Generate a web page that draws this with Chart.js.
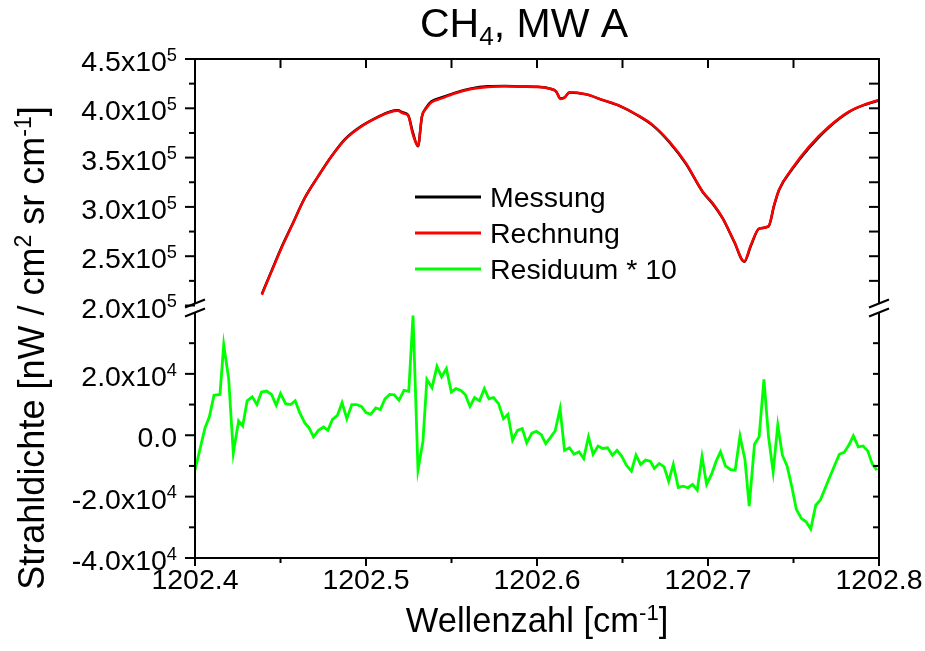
<!DOCTYPE html>
<html>
<head>
<meta charset="utf-8">
<title>CH4, MW A</title>
<script src="https://cdn.jsdelivr.net/npm/chart.js@4.4.1/dist/chart.umd.min.js"></script>
<style>
  html, body { margin: 0; padding: 0; background: #fff; }
  canvas { display: block; }
</style>
</head>
<body>
<canvas id="ch4-chart" width="925" height="651"></canvas>
<script>
// spectra (Messung / Rechnung) in nW / cm2 sr cm-1
const specWavenumber = [
  1202.4391, 1202.4448, 1202.4506, 1202.4565, 1202.4642, 1202.4720, 1202.4798, 1202.4876, 1202.4973, 1202.5070,
  1202.5139, 1202.5187, 1202.5216, 1202.5246, 1202.5275, 1202.5304, 1202.5327, 1202.5353, 1202.5382, 1202.5441,
  1202.5518, 1202.5616, 1202.5713, 1202.5810, 1202.5908, 1202.6005, 1202.6083, 1202.6112, 1202.6137, 1202.6161,
  1202.6190, 1202.6287, 1202.6384, 1202.6482, 1202.6579, 1202.6676, 1202.6774, 1202.6871, 1202.6968, 1202.7027,
  1202.7085, 1202.7153, 1202.7212, 1202.7251, 1202.7299, 1202.7354, 1202.7387, 1202.7416, 1202.7494, 1202.7591,
  1202.7708, 1202.7825, 1202.7922, 1202.8000
];
const messung = [
  2.116e5, 2.353e5, 2.591e5, 2.808e5, 3.092e5, 3.310e5, 3.514e5, 3.686e5, 3.820e5, 3.914e5,
  3.966e5, 3.979e5, 3.957e5, 3.933e5, 3.750e5, 3.614e5, 3.915e5, 4.009e5, 4.068e5, 4.110e5,
  4.157e5, 4.201e5, 4.223e5, 4.227e5, 4.221e5, 4.218e5, 4.196e5, 4.170e5, 4.099e5, 4.108e5,
  4.161e5, 4.141e5, 4.083e5, 4.024e5, 3.937e5, 3.827e5, 3.656e5, 3.436e5, 3.154e5, 3.033e5,
  2.885e5, 2.646e5, 2.444e5, 2.606e5, 2.779e5, 2.802e5, 3.016e5, 3.175e5, 3.386e5, 3.598e5,
  3.808e5, 3.964e5, 4.039e5, 4.080e5
];
const rechnung = [
  2.110e5, 2.347e5, 2.584e5, 2.803e5, 3.090e5, 3.309e5, 3.511e5, 3.680e5, 3.815e5, 3.910e5,
  3.960e5, 3.974e5, 3.950e5, 3.926e5, 3.730e5, 3.620e5, 3.916e5, 4.000e5, 4.060e5, 4.100e5,
  4.150e5, 4.196e5, 4.217e5, 4.224e5, 4.220e5, 4.217e5, 4.196e5, 4.170e5, 4.095e5, 4.110e5,
  4.163e5, 4.143e5, 4.085e5, 4.027e5, 3.940e5, 3.832e5, 3.663e5, 3.444e5, 3.157e5, 3.039e5,
  2.888e5, 2.651e5, 2.448e5, 2.617e5, 2.780e5, 2.803e5, 3.022e5, 3.174e5, 3.394e5, 3.612e5,
  3.815e5, 3.966e5, 4.041e5, 4.085e5
];

// residual (Messung - Rechnung) * 10
const resWavenumber = [
  1202.4000, 1202.4058, 1202.4084, 1202.4111, 1202.4146, 1202.4168, 1202.4197, 1202.4224, 1202.4255, 1202.4279,
  1202.4305, 1202.4335, 1202.4362, 1202.4389, 1202.4419, 1202.4448, 1202.4475, 1202.4500, 1202.4530, 1202.4559,
  1202.4586, 1202.4613, 1202.4642, 1202.4667, 1202.4693, 1202.4722, 1202.4752, 1202.4777, 1202.4804, 1202.4833,
  1202.4860, 1202.4888, 1202.4917, 1202.4944, 1202.4973, 1202.5000, 1202.5028, 1202.5057, 1202.5084, 1202.5111,
  1202.5139, 1202.5166, 1202.5193, 1202.5222, 1202.5250, 1202.5275, 1202.5304, 1202.5333, 1202.5356, 1202.5386,
  1202.5415, 1202.5442, 1202.5470, 1202.5499, 1202.5526, 1202.5555, 1202.5581, 1202.5608, 1202.5635, 1202.5664,
  1202.5692, 1202.5719, 1202.5746, 1202.5775, 1202.5804, 1202.5830, 1202.5857, 1202.5886, 1202.5914, 1202.5940,
  1202.5970, 1202.5997, 1202.6025, 1202.6051, 1202.6079, 1202.6106, 1202.6135, 1202.6161, 1202.6190, 1202.6217,
  1202.6246, 1202.6273, 1202.6301, 1202.6328, 1202.6357, 1202.6384, 1202.6413, 1202.6441, 1202.6468, 1202.6495,
  1202.6523, 1202.6552, 1202.6579, 1202.6606, 1202.6635, 1202.6663, 1202.6686, 1202.6715, 1202.6743, 1202.6770,
  1202.6797, 1202.6826, 1202.6854, 1202.6883, 1202.6910, 1202.6937, 1202.6965, 1202.6992, 1202.7021, 1202.7048,
  1202.7073, 1202.7102, 1202.7132, 1202.7159, 1202.7187, 1202.7216, 1202.7241, 1202.7272, 1202.7299, 1202.7327,
  1202.7354, 1202.7381, 1202.7408, 1202.7435, 1202.7463, 1202.7490, 1202.7517, 1202.7546, 1202.7574, 1202.7601,
  1202.7630, 1202.7657, 1202.7685, 1202.7712, 1202.7739, 1202.7768, 1202.7796, 1202.7823, 1202.7850, 1202.7879,
  1202.7907, 1202.7934, 1202.7961, 1202.7988
];
const residuum = [
  -11400, 2300, 6000, 13000, 13300, 29500, 18400, -5800, 4700, 3000,
  11200, 12500, 10000, 14100, 14400, 13200, 9800, 13600, 10300, 10000,
  11200, 7300, 4000, 2400, -500, 1600, 2700, 1600, 5200, 6500,
  10600, 5400, 10000, 10000, 9400, 7400, 6800, 8900, 8400, 11900,
  13300, 13200, 11400, 14600, 14300, 39000, -11200, -2000, 18200, 15500,
  22400, 19000, 21700, 14100, 15200, 14600, 13200, 9400, 12300, 11200,
  15200, 11900, 12300, 10300, 5400, 6800, -1600, 1600, 2200, -2500,
  700, 1300, 200, -2700, -700, 1400, 8700, -4900, -4100, -6200,
  -5400, -7600, -500, -6200, -3500, -4300, -4100, -6500, -4900, -6800,
  -9800, -11700, -6500, -9500, -8100, -8500, -10800, -9200, -10300, -15000,
  -9500, -17000, -16600, -17100, -16000, -17900, -7000, -16000, -12700, -8400,
  -5400, -10000, -11200, -11400, -300, -7900, -23100, -2900, -500, 18200,
  -500, -11900, 3300, -6500, -10100, -16800, -24200, -27100, -28200, -30600,
  -22800, -21100, -17300, -13600, -10000, -6200, -5600, -3300, -200, -3800,
  -3500, -5100, -9400, -11400
];

const xTickValues = [1202.4, 1202.5, 1202.6, 1202.7, 1202.8];
const specTickValues = [2.0e5, 2.5e5, 3.0e5, 3.5e5, 4.0e5, 4.5e5];
const resTickValues = [-4.0e4, -2.0e4, 0, 2.0e4];
const resAxisMax = 4.0e4;

const FONT = "'Liberation Sans', Arial, Helvetica, sans-serif";

// plot box and the broken y axis (upper part = spectra, lower part = residual)
const frame = { left: 195, right: 879, top: 59, bottom: 558 };
const upperShare = 0.494;
const gapShare = 0.014;

const plotH = frame.bottom - frame.top;
const upperH = plotH * upperShare;
const lowerH = plotH * (1 - upperShare - gapShare);
const specLo = specTickValues[0];
const specHi = specTickValues[specTickValues.length - 1];
const resLo = resTickValues[0];
const specMin = specHi - (specHi - specLo) * plotH / upperH;
const resMax = resLo + (resAxisMax - resLo) * plotH / lowerH;

const toPoints = (xs, ys) => xs.map((x, i) => ({ x: x, y: ys[i] }));

// text with super-/subscripts: parts = [{t, s}] with s = 1 (sup), -1 (sub)
const SUP = 0.64;
function richWidth(ctx, parts, size) {
  let w = 0;
  for (const p of parts) {
    ctx.font = (p.s ? size * SUP : size) + 'px ' + FONT;
    w += ctx.measureText(p.t).width;
  }
  return w;
}
function drawRich(ctx, parts, x, y, size, align) {
  const w = richWidth(ctx, parts, size);
  let cx = align === 'right' ? x - w : align === 'center' ? x - w / 2 : x;
  ctx.textAlign = 'left';
  ctx.textBaseline = 'alphabetic';
  for (const p of parts) {
    ctx.font = (p.s ? size * SUP : size) + 'px ' + FONT;
    const dy = p.s === 1 ? -size * 0.36 : p.s === -1 ? size * 0.2 : 0;
    ctx.fillText(p.t, cx, y + dy);
    cx += ctx.measureText(p.t).width;
  }
}
function sciParts(v) {
  if (v === 0) return [{ t: '0.0' }];
  const e = Math.floor(Math.log10(Math.abs(v)));
  return [{ t: (v / Math.pow(10, e)).toFixed(1) + 'x10' }, { t: String(e), s: 1 }];
}
const midpoints = v => v.slice(1).map((t, i) => (t + v[i]) / 2);

const decorations = {
  id: 'decorations',
  afterDraw(chart) {
    const { ctx, chartArea: a, scales } = chart;
    const sx = scales.x, ys = scales.ySpec, yr = scales.yRes;
    const upperEnd = ys.getPixelForValue(specLo);
    const lowerStart = yr.getPixelForValue(resAxisMax);
    const line = (x1, y1, x2, y2) => {
      ctx.beginPath(); ctx.moveTo(x1, y1); ctx.lineTo(x2, y2); ctx.stroke();
    };

    ctx.save();
    ctx.strokeStyle = '#000';
    ctx.fillStyle = '#000';
    ctx.lineWidth = 2;

    // frame, broken on both sides
    line(a.left - 1, a.top, a.right + 1, a.top);
    line(a.left - 1, a.bottom, a.right + 1, a.bottom);
    for (const x of [a.left, a.right]) {
      line(x, a.top, x, upperEnd - 2);
      line(x, lowerStart, x, a.bottom);
      line(x - 10, upperEnd + 2, x + 10, upperEnd - 6);
      line(x - 10, lowerStart + 4, x + 10, lowerStart - 4);
    }

    // x ticks: outward at bottom, inward at top
    for (const t of xTickValues) {
      const p = sx.getPixelForValue(t);
      line(p, a.bottom, p, a.bottom + 8);
      line(p, a.top, p, a.top + 9);
    }
    for (const t of midpoints(xTickValues)) {
      const p = sx.getPixelForValue(t);
      line(p, a.bottom, p, a.bottom + 5);
      line(p, a.top, p, a.top + 9);
    }

    // y ticks: outward left, inward right
    for (const t of specTickValues) {
      const p = ys.getPixelForValue(t);
      line(a.left - 10, p, a.left, p);
      if (t !== specLo) line(a.right - 10, p, a.right, p);
    }
    for (const t of midpoints(specTickValues)) {
      const p = ys.getPixelForValue(t);
      line(a.left - 6, p, a.left, p);
      line(a.right - 10, p, a.right, p);
    }
    for (const t of resTickValues) {
      const p = yr.getPixelForValue(t);
      line(a.left - 10, p, a.left, p);
      line(a.right - 6, p, a.right, p);
    }
    for (const t of midpoints(resTickValues.concat([resAxisMax]))) {
      const p = yr.getPixelForValue(t);
      line(a.left - 6, p, a.left, p);
      line(a.right - 6, p, a.right, p);
    }

    // tick labels
    for (const t of specTickValues) drawRich(ctx, sciParts(t), a.left - 18, ys.getPixelForValue(t) + 12, 28.5, 'right');
    for (const t of resTickValues) drawRich(ctx, sciParts(t), a.left - 18, yr.getPixelForValue(t) + 12, 28.5, 'right');
    for (const t of xTickValues) drawRich(ctx, [{ t: t.toFixed(1) }], sx.getPixelForValue(t), a.bottom + 31, 28.5, 'center');

    // titles
    drawRich(ctx, [{ t: 'CH' }, { t: '4', s: -1 }, { t: ', MW A' }], 524, 37, 41, 'center');
    drawRich(ctx, [{ t: 'Wellenzahl [cm' }, { t: '-1', s: 1 }, { t: ']' }], 537, 632, 34.5, 'center');
    ctx.save();
    ctx.translate(44, 348);
    ctx.rotate(-Math.PI / 2);
    drawRich(ctx, [{ t: 'Strahldichte [nW / cm' }, { t: '2', s: 1 }, { t: ' sr cm' }, { t: '-1', s: 1 }, { t: ']' }], 0, 0, 36, 'center');
    ctx.restore();

    // legend
    chart.data.datasets.forEach((ds, i) => {
      const y = 197 + i * 36;
      ctx.strokeStyle = ds.borderColor;
      ctx.lineWidth = 3;
      line(415, y, 481, y);
      drawRich(ctx, [{ t: ds.label }], 490, y + 10, 28.5, 'left');
    });
    ctx.restore();
  }
};

new Chart(document.getElementById('ch4-chart'), {
  type: 'line',
  data: {
    datasets: [
      { label: 'Messung', data: toPoints(specWavenumber, messung), borderColor: '#000000', borderWidth: 2.5, cubicInterpolationMode: 'monotone', yAxisID: 'ySpec', order: 2 },
      { label: 'Rechnung', data: toPoints(specWavenumber, rechnung), borderColor: '#ff0000', borderWidth: 2.5, cubicInterpolationMode: 'monotone', yAxisID: 'ySpec', order: 1 },
      { label: 'Residuum * 10', data: toPoints(resWavenumber, residuum), borderColor: '#00ff00', borderWidth: 2.8, yAxisID: 'yRes', order: 0 }
    ]
  },
  options: {
    responsive: false,
    animation: false,
    layout: {
      padding: { left: frame.left, right: 925 - frame.right, top: frame.top, bottom: 651 - frame.bottom }
    },
    elements: { point: { radius: 0 }, line: { tension: 0, fill: false } },
    plugins: { legend: { display: false }, title: { display: false }, tooltip: { enabled: false } },
    scales: {
      x: { type: 'linear', display: false, min: xTickValues[0], max: xTickValues[xTickValues.length - 1] },
      ySpec: { type: 'linear', display: false, min: specMin, max: specHi },
      yRes: { type: 'linear', display: false, min: resLo, max: resMax }
    }
  },
  plugins: [decorations]
});
</script>
</body>
</html>
